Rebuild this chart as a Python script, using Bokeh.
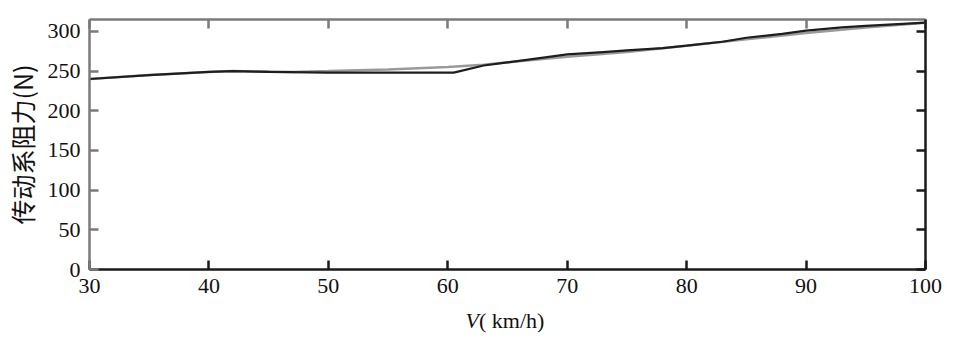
from bokeh.plotting import figure
from bokeh.models import LinearAxis, Range1d, FixedTicker, Div
from bokeh.layouts import column
from bokeh.embed import file_html
from bokeh.resources import INLINE

# Data
speed_black = [30, 35, 40, 42, 45, 50, 55, 60.5, 63, 65, 68, 70, 73, 75, 78, 80, 83, 85, 88, 90, 93, 95, 100]
force_black = [240, 245, 249, 250, 249, 248, 248, 248, 257, 261, 267, 271, 274, 276, 279, 282, 287, 292, 297, 301, 305, 307, 311]
speed_gray = [30, 35, 40, 42, 47, 50, 55, 60, 63, 65, 70, 75, 80, 85, 90, 95, 100]
force_gray = [240, 245, 249, 250, 249, 250, 252, 255, 258, 261, 268, 274, 282, 290, 298, 305, 311]
x_ticks = [30, 40, 50, 60, 70, 80, 90, 100]
y_ticks = [0, 50, 100, 150, 200, 250, 300]
y_title = "传动系阻力(N)"
x_title_var = "V"
x_title_unit = "( km/h)"

SERIF = "Liberation Serif, Times New Roman, DejaVu Serif, serif"
CJK = "Noto Sans CJK SC"

p = figure(width=953, height=310, frame_width=836, frame_height=250,
           output_backend="svg", toolbar_location=None,
           x_range=Range1d(30, 100), y_range=Range1d(0, 315),
           min_border_left=87, min_border_right=30, min_border_top=19, min_border_bottom=41,
           x_axis_location=None, y_axis_location=None)
p.grid.visible = False
p.outline_line_color = None
p.background_fill_color = "white"
p.border_fill_color = "white"


def style(ax, ticks, color, labels=True):
    ax.ticker = FixedTicker(ticks=ticks)
    ax.axis_line_color = color
    ax.axis_line_width = 2.5
    ax.major_tick_line_color = color
    ax.major_tick_line_width = 2.5
    ax.major_tick_in = 9
    ax.major_tick_out = 0
    ax.minor_tick_line_color = None
    ax.major_label_text_font = SERIF
    ax.major_label_text_font_size = "22px"
    ax.major_label_text_color = "#111111"
    ax.major_label_standoff = 9
    if not labels:
        ax.major_label_overrides = {t: "" for t in ticks}


bx = LinearAxis()
tx = LinearAxis()
ly = LinearAxis()
ry = LinearAxis()
style(bx, x_ticks, "#1a1a1a")
style(tx, x_ticks, "#7a7a7a", labels=False)
style(ly, y_ticks, "#7a7a7a")
style(ry, y_ticks, "#1a1a1a", labels=False)
ly.axis_label = y_title
ly.axis_label_text_font = CJK
ly.axis_label_text_font_size = "25px"
ly.axis_label_text_font_style = "normal"
ly.axis_label_text_color = "#111111"
ly.axis_label_standoff = 5

p.add_layout(bx, "below")
p.add_layout(tx, "above")
p.add_layout(ly, "left")
p.add_layout(ry, "right")

p.line(speed_gray, force_gray, line_color="#9a9a9a", line_width=2.5)
p.line(speed_black, force_black, line_color="#1e1e1e", line_width=2.2)

xlabel = Div(
    text=(f'<div style="font-family:{SERIF};font-size:22px;color:#111;'
          f'line-height:22px;width:836px;text-align:center;">'
          f'<i>{x_title_var}</i>{x_title_unit}</div>'),
    width=953, height=44, margin=(0, 0, 0, 87),
)

layout = column(p, xlabel, spacing=0)
open("out.html", "w").write(file_html(layout, INLINE))
